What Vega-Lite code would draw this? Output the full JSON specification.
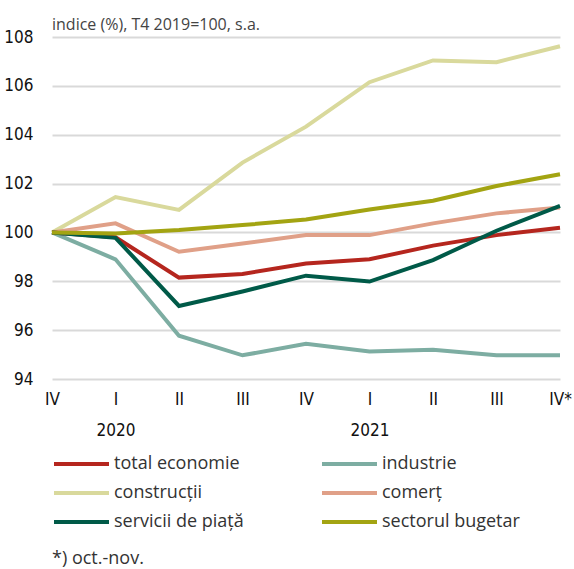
{
  "$schema": "https://vega.github.io/schema/vega-lite/v6.json",
  "width": 508,
  "height": 342,
  "autosize": {"type": "none"},
  "padding": {"left": 52, "top": 37, "right": 14, "bottom": 190},
  "background": "white",
  "title": {
    "text": "indice (%), T4 2019=100, s.a.",
    "anchor": "start",
    "frame": "group",
    "font": "Open Sans",
    "fontSize": 16,
    "fontWeight": "normal",
    "color": "#444444",
    "baseline": "alphabetic",
    "offset": -18
  },
  "config": {"view": {"stroke": null}},
  "data": {
    "values": [
      {"serie": "industrie", "trimestru": "IV 2019", "valoare": 100},
      {"serie": "industrie", "trimestru": "I 2020", "valoare": 98.9},
      {"serie": "industrie", "trimestru": "II 2020", "valoare": 95.77},
      {"serie": "industrie", "trimestru": "III 2020", "valoare": 94.97},
      {"serie": "industrie", "trimestru": "IV 2020", "valoare": 95.44},
      {"serie": "industrie", "trimestru": "I 2021", "valoare": 95.13},
      {"serie": "industrie", "trimestru": "II 2021", "valoare": 95.2},
      {"serie": "industrie", "trimestru": "III 2021", "valoare": 94.97},
      {"serie": "industrie", "trimestru": "IV* 2021", "valoare": 94.97},
      {"serie": "construcții", "trimestru": "IV 2019", "valoare": 100},
      {"serie": "construcții", "trimestru": "I 2020", "valoare": 101.45},
      {"serie": "construcții", "trimestru": "II 2020", "valoare": 100.92},
      {"serie": "construcții", "trimestru": "III 2020", "valoare": 102.86},
      {"serie": "construcții", "trimestru": "IV 2020", "valoare": 104.33},
      {"serie": "construcții", "trimestru": "I 2021", "valoare": 106.15},
      {"serie": "construcții", "trimestru": "II 2021", "valoare": 107.04},
      {"serie": "construcții", "trimestru": "III 2021", "valoare": 106.97},
      {"serie": "construcții", "trimestru": "IV* 2021", "valoare": 107.62},
      {"serie": "comerț", "trimestru": "IV 2019", "valoare": 100},
      {"serie": "comerț", "trimestru": "I 2020", "valoare": 100.37},
      {"serie": "comerț", "trimestru": "II 2020", "valoare": 99.21},
      {"serie": "comerț", "trimestru": "III 2020", "valoare": 99.55},
      {"serie": "comerț", "trimestru": "IV 2020", "valoare": 99.89},
      {"serie": "comerț", "trimestru": "I 2021", "valoare": 99.89},
      {"serie": "comerț", "trimestru": "II 2021", "valoare": 100.37},
      {"serie": "comerț", "trimestru": "III 2021", "valoare": 100.78},
      {"serie": "comerț", "trimestru": "IV* 2021", "valoare": 101.02},
      {"serie": "total economie", "trimestru": "IV 2019", "valoare": 100},
      {"serie": "total economie", "trimestru": "I 2020", "valoare": 99.8},
      {"serie": "total economie", "trimestru": "II 2020", "valoare": 98.15},
      {"serie": "total economie", "trimestru": "III 2020", "valoare": 98.3},
      {"serie": "total economie", "trimestru": "IV 2020", "valoare": 98.73},
      {"serie": "total economie", "trimestru": "I 2021", "valoare": 98.9},
      {"serie": "total economie", "trimestru": "II 2021", "valoare": 99.46},
      {"serie": "total economie", "trimestru": "III 2021", "valoare": 99.89},
      {"serie": "total economie", "trimestru": "IV* 2021", "valoare": 100.19},
      {"serie": "servicii de piață", "trimestru": "IV 2019", "valoare": 100},
      {"serie": "servicii de piață", "trimestru": "I 2020", "valoare": 99.78},
      {"serie": "servicii de piață", "trimestru": "II 2020", "valoare": 96.99},
      {"serie": "servicii de piață", "trimestru": "III 2020", "valoare": 97.58},
      {"serie": "servicii de piață", "trimestru": "IV 2020", "valoare": 98.23},
      {"serie": "servicii de piață", "trimestru": "I 2021", "valoare": 97.99},
      {"serie": "servicii de piață", "trimestru": "II 2021", "valoare": 98.87},
      {"serie": "servicii de piață", "trimestru": "III 2021", "valoare": 100.07},
      {"serie": "servicii de piață", "trimestru": "IV* 2021", "valoare": 101.09},
      {"serie": "sectorul bugetar", "trimestru": "IV 2019", "valoare": 100},
      {"serie": "sectorul bugetar", "trimestru": "I 2020", "valoare": 99.96},
      {"serie": "sectorul bugetar", "trimestru": "II 2020", "valoare": 100.1},
      {"serie": "sectorul bugetar", "trimestru": "III 2020", "valoare": 100.3},
      {"serie": "sectorul bugetar", "trimestru": "IV 2020", "valoare": 100.53},
      {"serie": "sectorul bugetar", "trimestru": "I 2021", "valoare": 100.94},
      {"serie": "sectorul bugetar", "trimestru": "II 2021", "valoare": 101.3},
      {"serie": "sectorul bugetar", "trimestru": "III 2021", "valoare": 101.9},
      {"serie": "sectorul bugetar", "trimestru": "IV* 2021", "valoare": 102.38}
    ]
  },
  "mark": {"type": "line", "strokeWidth": 4},
  "encoding": {
    "x": {
      "field": "trimestru",
      "type": "ordinal",
      "sort": ["IV 2019", "I 2020", "II 2020", "III 2020", "IV 2020", "I 2021", "II 2021", "III 2021", "IV* 2021"],
      "scale": {"type": "point", "padding": 0},
      "axis": {
        "title": null,
        "domain": false,
        "ticks": false,
        "tickSize": 0,
        "grid": false,
        "labelAngle": 0,
        "labelFont": "DejaVu Sans Condensed",
        "labelFontSize": 17,
        "labelColor": "#111111",
        "labelBaseline": "top",
        "labelPadding": 12,
        "labelLineHeight": 31,
        "labelExpr": "split(datum.value, ' ')[0] == 'I' ? [split(datum.value, ' ')[0], split(datum.value, ' ')[1]] : split(datum.value, ' ')[0]"
      }
    },
    "y": {
      "field": "valoare",
      "type": "quantitative",
      "scale": {"domain": [94, 108], "nice": false, "zero": false},
      "axis": {
        "title": null,
        "values": [94, 96, 98, 100, 102, 104, 106, 108],
        "domain": false,
        "ticks": false,
        "tickSize": 0,
        "grid": true,
        "gridColor": "#d9d9d9",
        "gridWidth": 2,
        "labelFont": "DejaVu Sans Condensed",
        "labelFontSize": 17,
        "labelColor": "#111111",
        "labelPadding": 19
      }
    },
    "color": {
      "field": "serie",
      "type": "nominal",
      "scale": {
        "domain": ["total economie", "industrie", "construcții", "comerț", "servicii de piață", "sectorul bugetar"],
        "range": ["#b5261e", "#7dada2", "#d9d99c", "#e0a088", "#005a48", "#a3a412"]
      },
      "legend": {
        "orient": "bottom",
        "direction": "horizontal",
        "columns": 2,
        "offset": 16,
        "symbolType": "stroke",
        "symbolSize": 3025,
        "symbolStrokeWidth": 4,
        "clipHeight": 20,
        "labelOffset": 3,
        "columnPadding": 76,
        "rowPadding": 9,
        "labelFont": "Open Sans",
        "labelFontSize": 18,
        "labelColor": "#333333",
        "labelLimit": 300,
        "title": "*) oct.-nov.",
        "titleOrient": "bottom",
        "titleAnchor": "start",
        "titleFont": "Open Sans",
        "titleFontSize": 18,
        "titleFontWeight": "normal",
        "titleColor": "#333333",
        "titlePadding": 18
      }
    }
  }
}
